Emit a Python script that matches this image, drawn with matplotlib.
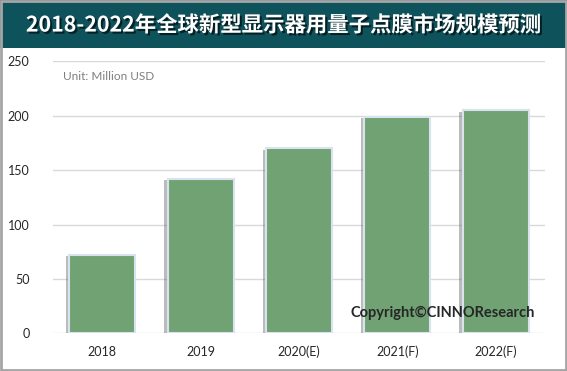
import matplotlib
matplotlib.use('Agg')
from matplotlib import pyplot as plt
from matplotlib import patheffects as pe
from matplotlib.patches import Rectangle

years = ['2018', '2019', '2020(E)', '2021(F)', '2022(F)']
market = [72, 142, 170, 199, 205]
yticks = [0, 50, 100, 150, 200, 250]

title = '2018-2022年全球新型显示器用量子点膜市场规模预测'

plt.rcParams['font.family'] = ['Lato', 'DejaVu Sans']

fig = plt.figure(figsize=(5.67, 3.71), dpi=100)
fig.patch.set_facecolor('white')

# title band and outer frame
fig.patches.append(Rectangle((0, 1 - 48/371), 1, 48/371, transform=fig.transFigure,
                             facecolor='#0e525c', edgecolor='none', zorder=0))
fig.patches.append(Rectangle((0.002, 0.003), 0.996, 0.994, transform=fig.transFigure,
                             facecolor='none', edgecolor='#a6a6a6', linewidth=2, zorder=5))
fig.text(0.5, 1 - 25/371, title, ha='center', va='center', color='white',
         fontsize=15.4, fontweight='bold', family=['Noto Sans CJK SC', 'DejaVu Sans'],
         path_effects=[pe.withSimplePatchShadow(offset=(1.5, -1.5), shadow_rgbFace='black', alpha=0.6)])

ax = fig.add_axes([53/567, 1 - 333.3/371, 492/567, 272/371])
bars = ax.bar(range(len(years)), market, width=0.67, color='#70a274',
              edgecolor='#d9e2ef', linewidth=1.5, zorder=3)
for b in bars:
    b.set_path_effects([pe.SimplePatchShadow(offset=(-2.5, -1), shadow_rgbFace='#555555', alpha=0.4),
                        pe.Normal()])

ax.set_xlim(-0.5, len(years) - 0.5)
ax.set_ylim(0, 250)
ax.set_yticks(yticks)
ax.set_xticks(range(len(years)))
ax.set_xticklabels(years)
ax.tick_params(axis='both', length=0, labelsize=9, colors='#262626')
ax.tick_params(axis='y', pad=17)
ax.tick_params(axis='x', pad=9)
ax.grid(axis='y', color='#d9d9d9', linewidth=1, zorder=0)
for s in ax.spines.values():
    s.set_visible(False)

fig.text(63/567, 1 - 76/371, 'Unit: Million USD', ha='left', va='center',
         fontsize=8.5, color='#7f7f7f')
fig.text(535/567, 1 - 313/371, 'Copyright©CINNOResearch', ha='right',
         va='center', fontsize=10.5, fontweight='bold', color='#262626', zorder=6)

fig.savefig('out.png', dpi=100)
